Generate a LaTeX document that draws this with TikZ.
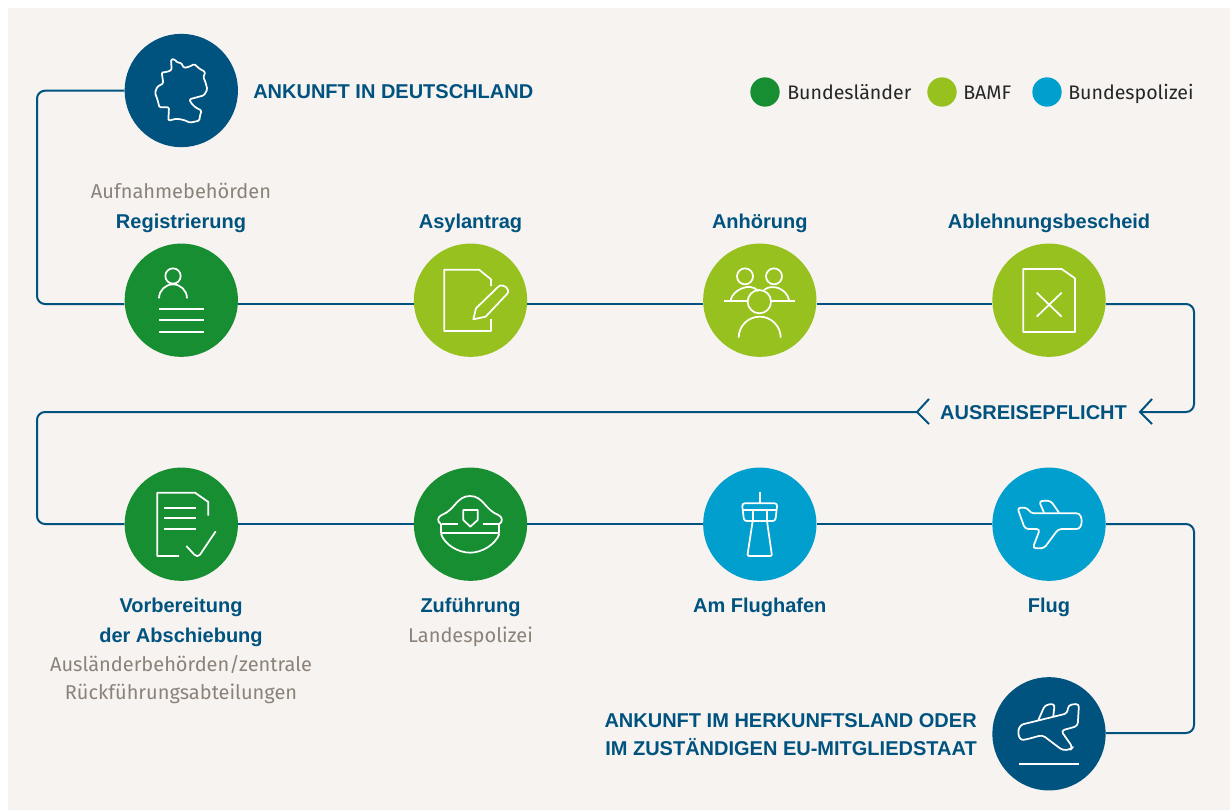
\documentclass[tikz,border=0pt]{standalone}
\usepackage{fontspec}
\setmainfont{Fira Sans}
\newfontfamily\headfont{Liberation Sans}
\usetikzlibrary{positioning}
\definecolor{darkblue}{HTML}{00527F}
\definecolor{stategreen}{HTML}{178E32}
\definecolor{bamfgreen}{HTML}{96C11F}
\definecolor{policeblue}{HTML}{009FCE}
\definecolor{paper}{HTML}{F6F3F0}
\definecolor{graytext}{HTML}{8C8279}
\tikzset{
  stage/.style={circle, draw=none, minimum size=85pt, inner sep=0pt},
  link/.style={draw=darkblue, line width=1.5pt, rounded corners=6pt},
  icon/.style={draw=white, line width=1.3pt, line join=round},
  crop/.style={shift={#1}, x=0.25pt, y=-0.25pt},
  head/.style={text=darkblue, font=\headfont\fontsize{15}{19}\selectfont\bfseries, align=center, inner sep=0pt},
  headone/.style={head, anchor=base},
  who/.style={text=graytext, font=\fontsize{15}{21}\selectfont, align=center},
  key/.style={circle, minimum size=22pt, inner sep=0pt},
  keytext/.style={text=black!85, font=\fontsize{14.7}{19}\selectfont, anchor=base west, inner sep=0pt},
}
\begin{document}
\begin{tikzpicture}[x=0.75pt, y=-0.75pt]
  \useasboundingbox (0,0) rectangle (1230,810);
  \fill[paper] (8,8) rectangle (1230,810);

  \node[stage, fill=darkblue] (arrival) at (181.3,90.5) {};
  \node[stage, fill=stategreen] (reg) at (181.3,300.2) {};
  \node[stage, fill=bamfgreen] (asyl) at (470.5,300.2) {};
  \node[stage, fill=bamfgreen] (hearing) at (759.8,300.2) {};
  \node[stage, fill=bamfgreen] (reject) at (1049,300.2) {};
  \node[stage, fill=stategreen] (prep) at (181.3,524.2) {};
  \node[stage, fill=stategreen] (escort) at (470.5,524.2) {};
  \node[stage, fill=policeblue] (airport) at (759.8,524.2) {};
  \node[stage, fill=policeblue] (flight) at (1049,524.2) {};
  \node[stage, fill=darkblue] (home) at (1049,733.8) {};

  % corners of the line
  \coordinate (ca) at (37,90.7);
  \coordinate (cb) at (37,304);
  \coordinate (cc) at (1194,304);
  \coordinate (cd) at (1194,412);
  \coordinate (ce) at (37,412);
  \coordinate (cf) at (37,524);
  \coordinate (cg) at (1194,524);
  \coordinate (ch) at (1194,733);
  \coordinate (tipr) at (1140,412);
  \coordinate (tipl) at (917,412);

  \draw[link] (arrival.west |- ca) -- (ca) -- (cb) -- (reg.west |- cb);
  \draw[link] (reg.east |- cb) -- (asyl.west |- cb);
  \draw[link] (asyl.east |- cb) -- (hearing.west |- cb);
  \draw[link] (hearing.east |- cb) -- (reject.west |- cb);
  \draw[link] (reject.east |- cb) -- (cc) -- (cd) -- (tipr);
  \draw[link] (tipl) -- (ce) -- (cf) -- (prep.west |- cf);
  \draw[link] (prep.east |- cf) -- (escort.west |- cf);
  \draw[link] (escort.east |- cf) -- (airport.west |- cf);
  \draw[link] (airport.east |- cf) -- (flight.west |- cf);
  \draw[link] (flight.east |- cg) -- (cg) -- (ch) -- (home.east |- ch);
  \foreach \tip in {tipl,tipr} {
    \draw[link, rounded corners=0pt] ([shift={(12,-13)}]\tip) -- (\tip) -- ([shift={(12,12)}]\tip);
  }

  % legend
  \node[key, fill=stategreen] (keya) at (765,92) {};
  \node[keytext] (keyatext) at (787,99) {Bundesländer};
  \node[key, fill=bamfgreen] (keyb) at (942,92) {};
  \node[keytext] (keybtext) at (963,99) {BAMF};
  \node[key, fill=policeblue] (keyc) at (1047,92) {};
  \node[keytext] (keyctext) at (1068,99) {Bundespolizei};

  % labels
  \node[head, anchor=base west] (larrival) at (253,98) {ANKUNFT IN DEUTSCHLAND};
  \node[who] (wreg) at (181,191) {Aufnahmebehörden};
  \node[headone] (lreg) at (181,228) {Registrierung};
  \node[headone] (lasyl) at (470.5,228) {Asylantrag};
  \node[headone] (lhearing) at (759.8,228) {Anhörung};
  \node[headone] (lreject) at (1049,228) {Ablehnungsbescheid};
  \node[headone] (lexit) at (1033.5,419) {AUSREISEPFLICHT};
  \node[head, font=\headfont\fontsize{15}{22.5}\selectfont\bfseries] (lprep) at (181,622) {Vorbereitung\\der Abschiebung};
  \node[who] (wprep) at (181,680) {Ausländerbehörden/zentrale\\Rückführungsabteilungen};
  \node[headone] (lescort) at (470.5,612) {Zuführung};
  \node[who] (wescort) at (470.5,637) {Landespolizei};
  \node[headone] (lairport) at (759.8,612) {Am Flughafen};
  \node[headone] (lflight) at (1049,612) {Flug};
  \node[head, align=right, anchor=east, font=\headfont\fontsize{15}{21}\selectfont\bfseries] (lhome) at (977,735) {ANKUNFT IM HERKUNFTSLAND ODER\\IM ZUSTÄNDIGEN EU-MITGLIEDSTAAT};

  % icons, in the pixels of the zoomed crops
  \begin{scope}[crop={(100,20)}]
    \draw[icon, rounded corners=1pt] (213,118) -- (224,118) -- (232,128) -- (243,128) -- (252,144) -- (268,140) -- (283,132) -- (298,146) -- (316,156)
      -- (310,172) -- (316,185) -- (322,208) -- (312,226) -- (268,238) -- (274,250) -- (286,262) -- (305,272) -- (300,286) -- (298,302) -- (270,308)
      -- (252,300) -- (230,296) -- (205,302) -- (207,262) -- (178,262) -- (174,244) -- (165,218) -- (172,200) -- (190,190) -- (185,157)
      -- (200,156) -- (215,150) -- cycle;
  \end{scope}
  \begin{scope}[crop={(110,235)}]
    \draw[icon] (189,123) circle (23);
    \draw[icon] (147,190) arc (180:360:42);
    \foreach \y in {222,256,290} {
      \draw[icon] (147,\y) -- (281,\y);
    }
    \draw[icon] (1143,153) -- (1143,133) -- (1107,104) -- (1003,104) -- (1003,288) -- (1143,288) -- (1143,252);
    \draw[icon] (1090,253) -- (1098,220) -- (1165,155) .. controls (1180,142) and (1205,165) .. (1190,178) -- (1127,245) -- cycle;
  \end{scope}
  \begin{scope}[crop={(690,235)}]
    \draw[icon] (165,124) circle (24);
    \draw[icon] (252,124) circle (24);
    \draw[icon] (208,200) circle (35);
    \draw[icon] (103,197) -- (173,197) (243,197) -- (316,197);
    \draw[icon] (122,195) .. controls (128,165) and (180,140) .. (205,168);
    \draw[icon] (222,165) .. controls (245,145) and (290,160) .. (297,195);
    \draw[icon] (146,308) arc (180:360:63);
    \draw[icon] (1000,102) -- (1115,102) -- (1155,130) -- (1155,291) -- (1000,291) -- cycle;
    \draw[icon] (1040,173) -- (1115,245) (1115,173) -- (1040,245);
  \end{scope}
  \begin{scope}[crop={(110,460)}]
    \draw[icon] (207,288) -- (142,288) -- (142,98) -- (255,98) -- (295,126) -- (295,167);
    \foreach \y in {145,175,206} {
      \draw[icon] (163,\y) -- (259,\y);
    }
    \draw[icon] (229,258) -- (253,284) .. controls (258,290) and (266,290) .. (270,284) -- (317,214);
    \draw[icon] (993,192) .. controls (980,185) and (983,170) .. (995,165) .. controls (1035,150) and (1040,108) .. (1080,108)
      .. controls (1120,108) and (1125,150) .. (1165,165) .. controls (1177,170) and (1180,185) .. (1168,192);
    \draw[icon] (993,192) -- (993,218) -- (1168,218) -- (1168,192);
    \draw[icon] (995,193) -- (1045,193) (1118,193) -- (1168,193);
    \draw[icon] (993,222) .. controls (1005,255) and (1045,278) .. (1080,278) .. controls (1115,278) and (1155,255) .. (1168,222);
    \draw[icon] (1060,150) -- (1103,150) -- (1103,180) -- (1081,200) -- (1060,180) -- cycle;
  \end{scope}
  \begin{scope}[crop={(690,460)}]
    \draw[icon] (209,97) -- (209,130);
    \draw[icon, rounded corners=2pt] (156,130) -- (262,130) -- (256,183) -- (162,183) -- cycle;
    \draw[icon] (160,150) -- (258,150) (188,150) -- (188,183) (231,150) -- (231,183);
    \draw[icon, rounded corners=1pt] (188,183) -- (172,288) -- (246,288) -- (231,183);
    \draw[icon, rounded corners=2.5pt] (982,143) -- (1012,143) -- (1022,160) -- (1150,160) .. controls (1180,160) and (1180,207) .. (1150,207)
      -- (1105,207) -- (1062,265) -- (1028,265) -- (1050,207) -- (1005,207) -- cycle;
    \draw[icon, rounded corners=2.5pt] (1062,158) -- (1047,123) -- (1082,122) -- (1107,158);
  \end{scope}
  \begin{scope}[crop={(980,670)}]
    \draw[icon] (118,281) -- (297,281);
    \draw[icon, rounded corners=2.5pt] (262,130) -- (265,105) -- (297,101) -- (293,168) -- (243,182) -- (278,232) -- (272,238) -- (248,241)
      -- (187,195) -- (140,208) .. controls (112,212) and (108,168) .. (140,160) -- cycle;
    \draw[icon, rounded corners=2.5pt] (175,150) -- (195,105) -- (224,101) -- (220,138);
  \end{scope}
\end{tikzpicture}
\end{document}
